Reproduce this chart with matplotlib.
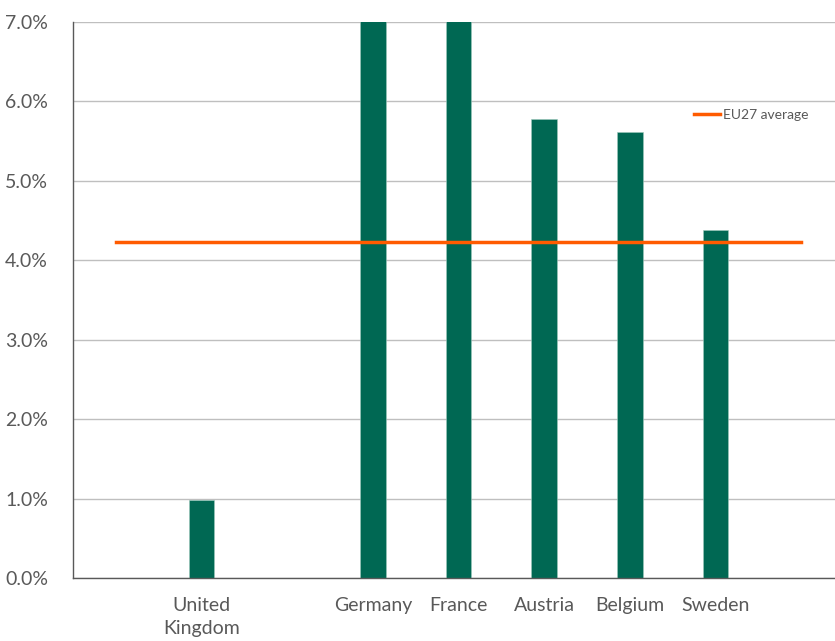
import matplotlib
matplotlib.use("Agg")
import matplotlib.pyplot as plt
import numpy as np

# Share of spending by country (percent); empty slots keep the category spacing
countries = ["", "United\nKingdom", "", "Germany", "France", "Austria", "Belgium", "Sweden", ""]
values = [np.nan, 0.98, np.nan, 7.6, 7.4, 5.78, 5.61, 4.38, np.nan]
eu27_average = 4.23
y_ticks = [0, 1, 2, 3, 4, 5, 6, 7]

GREEN = "#006853"
ORANGE = "#FF5B00"
TEXT = "#595959"

plt.rcParams["font.family"] = ["Lato", "DejaVu Sans"]

fig = plt.figure(figsize=(8.35, 6.41), dpi=100)
ax = fig.add_axes([73 / 835, 63 / 641, 771 / 835, 556 / 641])

x = np.arange(len(countries))
ax.bar(x, values, width=0.3, color=GREEN, edgecolor="#9fc9bd", linewidth=0.4, zorder=2)
ax.plot([x[0], x[-1]], [eu27_average, eu27_average], color=ORANGE, lw=2.5,
        label="EU27 average", zorder=3)

ax.set_xlim(-0.5, len(countries) - 0.5)
ax.set_ylim(0, 7)
ax.set_yticks(y_ticks)
ax.set_yticklabels([f"{v:.1f}%" for v in y_ticks])
ax.set_xticks(x)
ax.set_xticklabels(countries)
ax.tick_params(axis="both", length=0, labelsize=14, colors=TEXT)
ax.tick_params(axis="x", pad=14)
ax.tick_params(axis="y", pad=18)
for lbl in ax.get_xticklabels():
    lbl.set_linespacing(1.4)

ax.grid(axis="y", color="#bfbfbf", lw=1, zorder=0)
ax.set_axisbelow(True)
for side in ["top", "right"]:
    ax.spines[side].set_visible(False)
for side in ["left", "bottom"]:
    ax.spines[side].set_color("#595959")
    ax.spines[side].set_linewidth(1)

leg = ax.legend(loc="center left", bbox_to_anchor=(615 / 771, (578 - 115) / 556),
                frameon=False, fontsize=10, handlelength=1.9, handletextpad=0.25,
                borderaxespad=0)
for t in leg.get_texts():
    t.set_color(TEXT)

fig.savefig("out.png", dpi=100)
